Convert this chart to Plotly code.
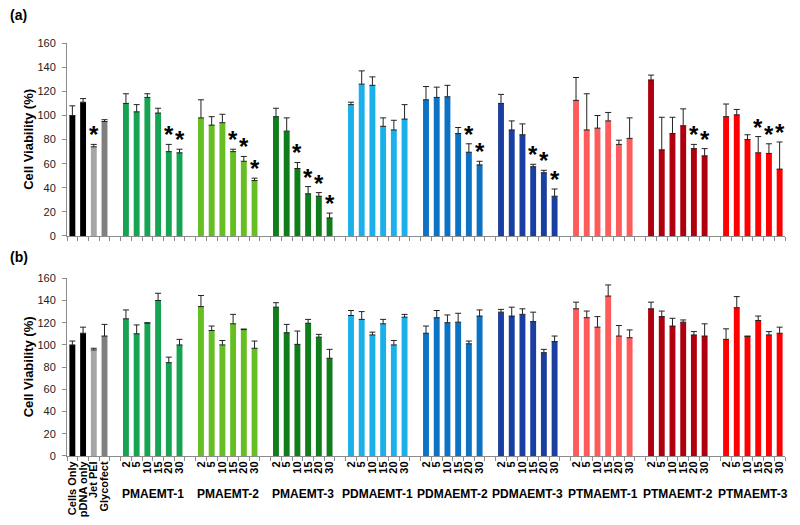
import plotly.graph_objects as go

# categories
controls = ["Cells Only", "pDNA only", "Jet PEI", "Glycofect"]
groups = ["PMAEMT-1", "PMAEMT-2", "PMAEMT-3",
          "PDMAEMT-1", "PDMAEMT-2", "PDMAEMT-3",
          "PTMAEMT-1", "PTMAEMT-2", "PTMAEMT-3"]
doses = ["2", "5", "10", "15", "20", "30"]

# panel (a)
ctrl_a = [100, 111, 74, 95]
ctrl_a_err = [8, 3, 2, 1.5]
ctrl_a_sig = [0, 0, 1, 0]
vals_a = [
    [110, 103, 115, 102, 70, 69],
    [98, 92, 94, 70, 62, 46],
    [99, 87, 56, 35, 33, 15],
    [109, 126, 125, 91, 88, 97],
    [113, 115, 115.5, 85, 69.5, 59],
    [110, 88, 84, 57.5, 52.5, 33],
    [112.5, 88, 89.5, 95.5, 76, 81],
    [129.5, 71.5, 85, 91.5, 72.5, 66.5],
    [99, 100.5, 80, 69, 68.5, 55.5],
]
err_a = [
    [8, 6, 3, 4, 6, 3],
    [15, 7, 7, 2, 4, 2],
    [7, 11, 5, 6, 3, 4],
    [2, 11, 7, 7, 8, 12],
    [11, 8.5, 9.5, 5, 7, 3],
    [7.5, 7.5, 9, 2, 2, 6],
    [19, 30, 10.5, 7, 3.5, 17],
    [4, 27, 13.5, 14, 3.5, 6],
    [10.5, 4.5, 4, 13.5, 8, 22.5],
]
sig_a = [
    [0, 0, 0, 0, 1, 1],
    [0, 0, 0, 1, 1, 1],
    [0, 0, 1, 1, 1, 1],
    [0, 0, 0, 0, 0, 0],
    [0, 0, 0, 0, 1, 1],
    [0, 0, 0, 1, 1, 1],
    [0, 0, 0, 0, 0, 0],
    [0, 0, 0, 0, 1, 1],
    [0, 0, 0, 1, 1, 1],
]

# panel (b)
ctrl_b = [100, 110.5, 95.5, 108]
ctrl_b_err = [3.5, 5.5, 1.5, 10.5]
vals_b = [
    [123.5, 110, 119.5, 140, 84, 100],
    [134.5, 113, 100, 119, 113.8, 97],
    [134, 111, 100.5, 119.5, 107, 88],
    [126.5, 123, 109, 119, 100, 125],
    [110.5, 124.5, 120, 120.5, 101, 126],
    [129.5, 126, 127.5, 121, 93, 103],
    [132.5, 124.5, 116, 144, 108, 106.5],
    [132.5, 125.5, 117, 120.5, 109, 108],
    [105, 133.5, 107.5, 122, 109, 110.5],
]
err_b = [
    [8, 8, 0.5, 6.5, 5, 5],
    [10, 4, 4, 8.5, 0.5, 6.5],
    [4, 7.5, 12, 3.5, 2.5, 8],
    [4.5, 7, 2.5, 4, 4, 2.5],
    [6.5, 6.5, 7, 8, 2.5, 5.5],
    [2.5, 8, 5, 8.5, 3, 5],
    [6, 6, 9.5, 10, 9.5, 7],
    [6, 5, 7, 2, 3, 11],
    [9.5, 10, 0.5, 4, 3, 5.5],
]

ctrl_colors = ["#000000", "#000000", "#a6a6a6", "#7f7f7f"]
group_colors = ["#17a452", "#66bf22", "#0f7d1a",
                "#1cb0ea", "#0b72c4", "#1a3fa0",
                "#ff5b5b", "#b0000f", "#ff0000"]

FONT = "Arial, Liberation Sans, sans-serif"
ctrl_x = list(range(len(controls)))
group_x = [[len(controls) + 1 + g * 7 + j for j in range(len(doses))]
           for g in range(len(groups))]


def bar(x, y, err, colors, xa, ya):
    return go.Bar(
        x=x, y=y, xaxis=xa, yaxis=ya, width=0.55,
        marker=dict(color=colors, line_width=0),
        error_y=dict(type="data", array=err, symmetric=False,
                     arrayminus=[0] * len(err), color="#222222",
                     thickness=1, width=3),
        showlegend=False, hoverinfo="skip",
    )


fig = go.Figure()
fig.add_trace(bar(ctrl_x, ctrl_a, ctrl_a_err, ctrl_colors, "x", "y"))
fig.add_trace(bar(ctrl_x, ctrl_b, ctrl_b_err, ctrl_colors, "x2", "y2"))
for g in range(len(groups)):
    fig.add_trace(bar(group_x[g], vals_a[g], err_a[g], group_colors[g], "x", "y"))
    fig.add_trace(bar(group_x[g], vals_b[g], err_b[g], group_colors[g], "x2", "y2"))

# significance stars
star_x, star_y = [], []
for i, s in enumerate(ctrl_a_sig):
    if s:
        star_x.append(ctrl_x[i])
        star_y.append(ctrl_a[i] + ctrl_a_err[i])
for g in range(len(groups)):
    for j, s in enumerate(sig_a[g]):
        if s:
            star_x.append(group_x[g][j])
            star_y.append(vals_a[g][j] + err_a[g][j])
for sx, sy in zip(star_x, star_y):
    fig.add_annotation(x=sx, y=sy, xref="x", yref="y", text="<b>*</b>",
                       showarrow=False, yanchor="bottom", yshift=-6,
                       font=dict(family=FONT, size=24, color="black"))

# group labels
for g, name in enumerate(groups):
    fig.add_annotation(x=sum(group_x[g]) / 6, y=0.060, xref="x2", yref="paper",
                       text=f"<b>{name}</b>", showarrow=False, yanchor="middle",
                       font=dict(family=FONT, size=12, color="black"))

for lbl, yy in [("(a)", 0.986), ("(b)", 0.518)]:
    fig.add_annotation(x=-0.082, y=yy, xref="paper", yref="paper",
                       text=f"<b>{lbl}</b>", showarrow=False, xanchor="left",
                       yanchor="middle",
                       font=dict(family=FONT, size=14, color="black"))

# y-axis titles
for yy in [(0.559 + 0.932) / 2, (0.1335 + 0.4772) / 2]:
    fig.add_annotation(x=-0.054, y=yy, xref="paper", yref="paper",
                       text="<b>Cell Viability (%)</b>", showarrow=False,
                       textangle=-90, xanchor="center", yanchor="middle",
                       font=dict(family=FONT, size=13, color="black"))

all_x = ctrl_x + [x for gx in group_x for x in gx]
all_text = controls + doses * len(groups)

xcommon = dict(range=[-0.5, 66.5], showline=True, linecolor="#8c8c8c",
               linewidth=1, ticks="", showgrid=False, zeroline=False,
               automargin=False,
               minor=dict(ticks="outside", ticklen=4, tick0=-0.5, dtick=1,
                          tickcolor="#8c8c8c", showgrid=False))
ycommon = dict(range=[0, 160], dtick=20, ticks="outside", ticklen=4,
               tickcolor="#8c8c8c", showline=True, linecolor="#8c8c8c",
               linewidth=1, showgrid=False, zeroline=False, automargin=False,
               ticklabelstandoff=4,
               tickfont=dict(family=FONT, size=11, color="#222222"))

# the page body adds an 8px margin, so the figure is laid out 8px smaller
fig.update_layout(
    width=792, height=517,
    margin=dict(l=59, r=15, t=0, b=0),
    paper_bgcolor="white", plot_bgcolor="white",
    barmode="overlay",
    xaxis=dict(**xcommon, anchor="y", domain=[0, 1], showticklabels=False),
    xaxis2=dict(**xcommon, anchor="y2", domain=[0, 1], tickvals=all_x,
                ticktext=all_text, tickangle=-90,
                tickfont=dict(family=FONT, size=11, color="black", weight="bold")),
    yaxis=dict(**ycommon, anchor="x", domain=[0.559, 0.932]),
    yaxis2=dict(**ycommon, anchor="x2", domain=[0.1335, 0.4772]),
)

fig.write_html("out.html")
